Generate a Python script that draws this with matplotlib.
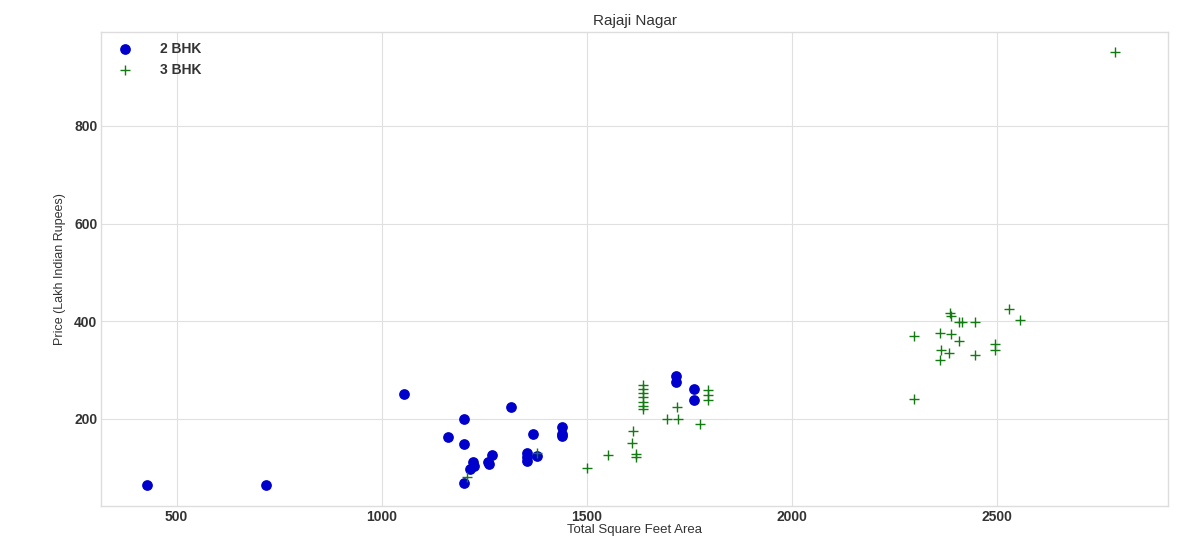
import matplotlib.pyplot as plt

# 2 BHK: area (sq ft) vs price (lakh)
sqft_2bhk = [429, 717, 1054, 1315, 1200, 1161, 1200, 1268, 1222, 1224, 1215, 1259, 1261, 1200,
             1354, 1354, 1354, 1378, 1368, 1439, 1439, 1439, 1717, 1717, 1761, 1761]
price_2bhk = [65, 65, 251, 225, 200, 163, 149, 126, 112, 104, 98, 112, 108, 69,
              130, 122, 114, 124, 169, 184, 169, 165, 288, 276, 261, 239]

# 3 BHK
sqft_3bhk = [1637, 1637, 1637, 1637, 1637, 1637, 1637, 1795, 1795, 1795, 1720, 1695, 1722, 1776,
             1613, 1610, 1620, 1620, 1551, 1500, 1378, 1207,
             2529, 2556, 2385, 2388, 2407, 2415, 2446, 2298, 2361, 2388, 2407, 2363, 2383,
             2361, 2446, 2495, 2495, 2298, 2788]
price_3bhk = [270, 261, 253, 244, 235, 227, 220, 259, 249, 239, 225, 200, 200, 190,
              175, 151, 128, 122, 126, 100, 130, 81,
              425, 403, 417, 411, 399, 399, 399, 370, 376, 374, 360, 341, 335,
              321, 331, 353, 341, 241, 951]

plt.style.use('seaborn-v0_8-whitegrid')
fig = plt.figure(figsize=(11.8, 5.38), dpi=100)
ax = fig.add_axes([0.086, 0.06, 0.904, 0.88])

ax.scatter(sqft_2bhk, price_2bhk, color='#0000cc', marker='o', s=45, label='2 BHK')
ax.scatter(sqft_3bhk, price_3bhk, color='#117a11', marker='+', s=45, linewidths=1.0, label='3 BHK')

ax.set_xlim(317, 2917)
ax.set_ylim(22, 992)
ax.set_xticks([500, 1000, 1500, 2000, 2500])
ax.set_yticks([200, 400, 600, 800])
ax.tick_params(labelsize=10, colors='#333333', pad=3)
for lab in ax.get_xticklabels() + ax.get_yticklabels():
    lab.set_fontweight('bold')
for s in ax.spines.values():
    s.set_visible(True)
    s.set_color('#dddddd')
ax.grid(color='#e0e0e0')

ax.set_title('Rajaji Nagar', fontsize=11, color='#333333', pad=5)
ax.set_xlabel('Total Square Feet Area', fontsize=9.5, color='#333333', labelpad=0)
ax.set_ylabel('Price (Lakh Indian Rupees)', fontsize=9, color='#333333', labelpad=6)
leg = ax.legend(loc='upper left', frameon=False, prop={'weight': 'bold', 'size': 10},
                borderaxespad=0.3, handletextpad=1.5)
for t in leg.get_texts():
    t.set_color('#333333')

fig.savefig('out.png', dpi=100)
